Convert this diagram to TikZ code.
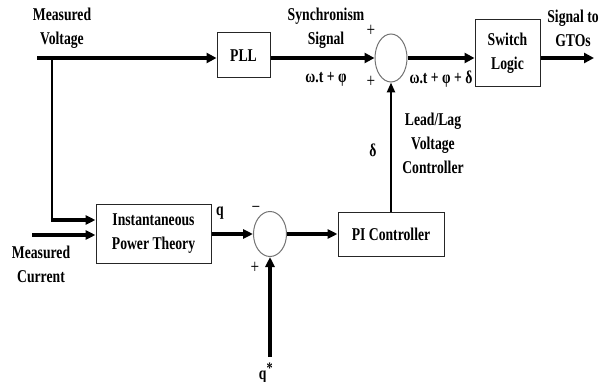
\documentclass[tikz,border=0pt]{standalone}
\usepackage{fontspec}
\setmainfont{Liberation Serif}[FakeStretch=0.76]
\usetikzlibrary{arrows.meta,shapes.geometric}
\begin{document}
\begin{tikzpicture}[x=1pt,y=-1pt,
  lab/.style={font=\fontsize{18}{24}\selectfont\bfseries, align=center, inner sep=0pt},
  sgn/.style={font=\fontsize{20}{20}\selectfont, inner sep=0pt},
  blk/.style={draw=black!85, line width=1pt, lab},
  sum/.style={draw=black!55, line width=1pt, ellipse, inner sep=0pt},
  sig/.style={line width=4.5pt, -{Triangle[length=10pt,width=10pt]}},
  sigb/.style={line width=3.5pt, -{Triangle[length=10pt,width=9pt]}},
  thn/.style={line width=2.2pt},
  thna/.style={line width=2.4pt, -{Triangle[length=10pt,width=8pt]}}]
\useasboundingbox (0,0) rectangle (610,382);
% blocks
\node[blk, minimum width=53pt, minimum height=45pt] (pll) at (243.5,55.5) {PLL};
\node[blk, minimum width=65pt, minimum height=67pt] (sw) at (507.5,53.5) {Switch\\Logic};
\node[blk, minimum width=115pt, minimum height=59pt] (ipt) at (153.5,234) {Instantaneous\\Power Theory};
\node[blk, minimum width=106pt, minimum height=44pt] (pi) at (391,234) {PI Controller};
\node[sum, minimum width=32pt, minimum height=48pt] (s1) at (391,58) {};
\node[sum, minimum width=33pt, minimum height=45pt] (s2) at (270,234) {};
% free ends
\coordinate (mv) at (37,58);
\coordinate (br) at (52,58);
\coordinate (bc) at (52,220);
\coordinate (mc) at (32,235);
\coordinate (qs) at (270,357);
\coordinate (out) at (594,58);
% connectors
\draw[sig] (mv) -- (pll.west |- mv);
\draw[thn] (br) -- (bc);
\draw[sigb] ([xshift=-1.1pt]bc) -- (ipt.west |- bc);
\draw[sigb] (mc) -- (ipt.west |- mc);
\draw[sigb] (ipt.east) -- (s2.west);
\draw[sigb] (s2.east) -- (pi.west);
\draw[sigb] (qs) -- (s2.south);
\draw[thna] (pi.north) -- (s1.south);
\draw[sig] (pll.east |- s1) -- (s1.west);
\draw[sig] (s1.east) -- (s1.east -| sw.west);
\draw[sig] (sw.east |- out) -- (out);
% labels
\node[lab] (lmv) at (62,28) {Measured\\Voltage};
\node[lab] (lsy) at (326,28) {Synchronism\\Signal};
\node[lab] (lwt) at (326,79) {ω.t + φ};
\node[sgn] (p1) at (371,31) {+};
\node[sgn] (p2) at (371,82) {+};
\node[lab] (lwd) at (441,79) {ω.t + φ + δ};
\node[lab] (lgt) at (573,28) {Signal to\\GTOs};
\node[lab] (ld) at (373,150) {δ};
\node[lab] (lll) at (433,143) {Lead/Lag\\Voltage\\Controller};
\node[lab] (lq) at (220,213) {q};
\node[sgn] (m1) at (256,210) {−};
\node[sgn] (p3) at (255,268) {+};
\node[lab] (lmc) at (41,264) {Measured\\Current};
\node[lab] (lqs) at (266,373) {q\textsuperscript{\fontsize{16}{16}\selectfont *}};
\end{tikzpicture}
\end{document}
